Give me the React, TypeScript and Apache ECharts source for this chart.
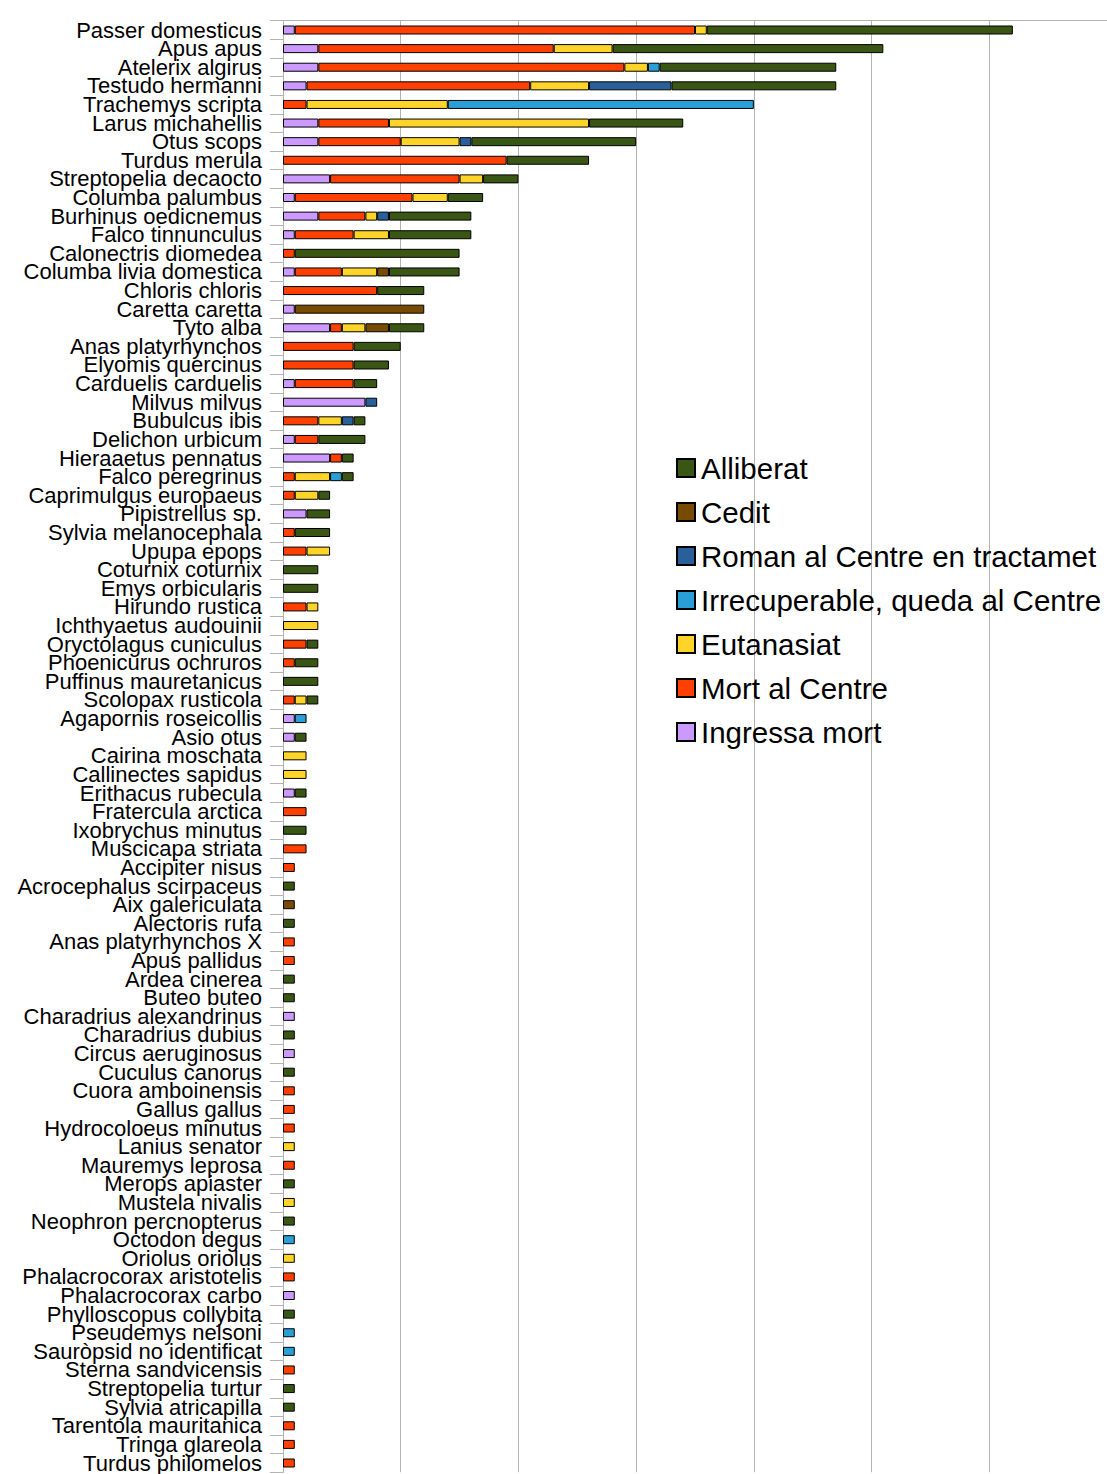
import React, { useEffect, useRef } from "react";
import * as echarts from "echarts";

const categories = [
  "Passer domesticus", "Apus apus", "Atelerix algirus", "Testudo hermanni", "Trachemys scripta",
  "Larus michahellis", "Otus scops", "Turdus merula", "Streptopelia decaocto", "Columba palumbus",
  "Burhinus oedicnemus", "Falco tinnunculus", "Calonectris diomedea", "Columba livia domestica", "Chloris chloris",
  "Caretta caretta", "Tyto alba", "Anas platyrhynchos", "Elyomis quercinus", "Carduelis carduelis",
  "Milvus milvus", "Bubulcus ibis", "Delichon urbicum", "Hieraaetus pennatus", "Falco peregrinus",
  "Caprimulgus europaeus", "Pipistrellus sp.", "Sylvia melanocephala", "Upupa epops", "Coturnix coturnix",
  "Emys orbicularis", "Hirundo rustica", "Ichthyaetus audouinii", "Oryctolagus cuniculus", "Phoenicurus ochruros",
  "Puffinus mauretanicus", "Scolopax rusticola", "Agapornis roseicollis", "Asio otus", "Cairina moschata",
  "Callinectes sapidus", "Erithacus rubecula", "Fratercula arctica", "Ixobrychus minutus", "Muscicapa striata",
  "Accipiter nisus", "Acrocephalus scirpaceus", "Aix galericulata", "Alectoris rufa", "Anas platyrhynchos X",
  "Apus pallidus", "Ardea cinerea", "Buteo buteo", "Charadrius alexandrinus", "Charadrius dubius",
  "Circus aeruginosus", "Cuculus canorus", "Cuora amboinensis", "Gallus gallus", "Hydrocoloeus minutus",
  "Lanius senator", "Mauremys leprosa", "Merops apiaster", "Mustela nivalis", "Neophron percnopterus",
  "Octodon degus", "Oriolus oriolus", "Phalacrocorax aristotelis", "Phalacrocorax carbo", "Phylloscopus collybita",
  "Pseudemys nelsoni", "Sauròpsid no identificat", "Sterna sandvicensis", "Streptopelia turtur", "Sylvia atricapilla",
  "Tarentola mauritanica", "Tringa glareola", "Turdus philomelos",
];

// Ingressa mort
const ingressaMort = [
  1, 3, 3, 2, 0, 3, 3, 0, 4, 1,
  3, 1, 0, 1, 0, 1, 4, 0, 0, 1,
  7, 0, 1, 4, 0, 0, 2, 0, 0, 0,
  0, 0, 0, 0, 0, 0, 0, 1, 1, 0,
  0, 1, 0, 0, 0, 0, 0, 0, 0, 0,
  0, 0, 0, 1, 0, 1, 0, 0, 0, 0,
  0, 0, 0, 0, 0, 0, 0, 0, 1, 0,
  0, 0, 0, 0, 0, 0, 0, 0,
];
// Mort al Centre
const mortAlCentre = [
  34, 20, 26, 19, 2, 6, 7, 19, 11, 10,
  4, 5, 1, 4, 8, 0, 1, 6, 6, 5,
  0, 3, 2, 1, 1, 1, 0, 1, 2, 0,
  0, 2, 0, 2, 1, 0, 1, 0, 0, 0,
  0, 0, 2, 0, 2, 1, 0, 0, 0, 1,
  1, 0, 0, 0, 0, 0, 0, 1, 1, 1,
  0, 1, 0, 0, 0, 0, 0, 1, 0, 0,
  0, 0, 1, 0, 0, 1, 1, 1,
];
// Eutanasiat
const eutanasiat = [
  1, 5, 2, 5, 12, 17, 5, 0, 2, 3,
  1, 3, 0, 3, 0, 0, 2, 0, 0, 0,
  0, 2, 0, 0, 3, 2, 0, 0, 2, 0,
  0, 1, 3, 0, 0, 0, 1, 0, 0, 2,
  2, 0, 0, 0, 0, 0, 0, 0, 0, 0,
  0, 0, 0, 0, 0, 0, 0, 0, 0, 0,
  1, 0, 0, 1, 0, 0, 1, 0, 0, 0,
  0, 0, 0, 0, 0, 0, 0, 0,
];
// Irrecuperable, queda al Centre
const irrecuperable = [
  0, 0, 1, 0, 26, 0, 0, 0, 0, 0,
  0, 0, 0, 0, 0, 0, 0, 0, 0, 0,
  0, 0, 0, 0, 1, 0, 0, 0, 0, 0,
  0, 0, 0, 0, 0, 0, 0, 1, 0, 0,
  0, 0, 0, 0, 0, 0, 0, 0, 0, 0,
  0, 0, 0, 0, 0, 0, 0, 0, 0, 0,
  0, 0, 0, 0, 0, 1, 0, 0, 0, 0,
  1, 1, 0, 0, 0, 0, 0, 0,
];
// Roman al Centre en tractamet
const romanAlCentre = [
  0, 0, 0, 7, 0, 0, 1, 0, 0, 0,
  1, 0, 0, 0, 0, 0, 0, 0, 0, 0,
  1, 1, 0, 0, 0, 0, 0, 0, 0, 0,
  0, 0, 0, 0, 0, 0, 0, 0, 0, 0,
  0, 0, 0, 0, 0, 0, 0, 0, 0, 0,
  0, 0, 0, 0, 0, 0, 0, 0, 0, 0,
  0, 0, 0, 0, 0, 0, 0, 0, 0, 0,
  0, 0, 0, 0, 0, 0, 0, 0,
];
// Cedit
const cedit = [
  0, 0, 0, 0, 0, 0, 0, 0, 0, 0,
  0, 0, 0, 1, 0, 11, 2, 0, 0, 0,
  0, 0, 0, 0, 0, 0, 0, 0, 0, 0,
  0, 0, 0, 0, 0, 0, 0, 0, 0, 0,
  0, 0, 0, 0, 0, 0, 0, 1, 0, 0,
  0, 0, 0, 0, 0, 0, 0, 0, 0, 0,
  0, 0, 0, 0, 0, 0, 0, 0, 0, 0,
  0, 0, 0, 0, 0, 0, 0, 0,
];
// Alliberat
const alliberat = [
  26, 23, 15, 14, 0, 8, 14, 7, 3, 3,
  7, 7, 14, 6, 4, 0, 3, 4, 3, 2,
  0, 1, 4, 1, 1, 1, 2, 3, 0, 3,
  3, 0, 0, 1, 2, 3, 1, 0, 1, 0,
  0, 1, 0, 2, 0, 0, 1, 0, 1, 0,
  0, 1, 1, 0, 1, 0, 1, 0, 0, 0,
  0, 0, 1, 0, 1, 0, 0, 0, 0, 1,
  0, 0, 0, 1, 1, 0, 0, 0,
];

const seriesNames = [
  "Ingressa mort",
  "Mort al Centre",
  "Eutanasiat",
  "Irrecuperable, queda al Centre",
  "Roman al Centre en tractamet",
  "Cedit",
  "Alliberat",
];
const seriesColors = ["#CC99FF", "#FF4000", "#FFD428", "#2A9FD6", "#2A6099", "#784B04", "#3A5614"];
const seriesValues = [ingressaMort, mortAlCentre, eutanasiat, irrecuperable, romanAlCentre, cedit, alliberat];

const FONT = "'Liberation Sans', Arial, sans-serif";

export default function App() {
  const ref = useRef<HTMLDivElement>(null);
  useEffect(() => {
    if (!ref.current) return;
    const chart = echarts.init(ref.current, null, { renderer: "svg" });
    chart.setOption({
      animation: false,
      backgroundColor: "#ffffff",
      legend: {
        orient: "vertical",
        left: 671,
        top: 448,
        itemWidth: 18,
        itemHeight: 18,
        itemGap: 14,
        icon: "rect",
        data: seriesNames.slice().reverse(),
        textStyle: {
          fontFamily: FONT,
          fontSize: 29.5,
          lineHeight: 30,
          color: "#000",
          padding: [0, 0, 0, 1],
        },
      },
      grid: {
        left: 283,
        top: 20.7,
        width: 826,
        height: 1453.6,
        containLabel: false,
      },
      xAxis: {
        type: "value",
        position: "top",
        min: 0,
        max: 70,
        interval: 10,
        axisLabel: { show: false },
        axisTick: { show: false },
        axisLine: { show: true, lineStyle: { color: "#b3b3b3", width: 1 } },
        splitLine: { show: true, lineStyle: { color: "#b3b3b3", width: 1 } },
      },
      yAxis: {
        type: "category",
        inverse: true,
        data: categories,
        axisLine: { show: true, lineStyle: { color: "#b3b3b3", width: 1 } },
        axisTick: { show: true, length: 13, lineStyle: { color: "#b3b3b3" } },
        axisLabel: {
          interval: 0,
          margin: 21,
          fontFamily: FONT,
          fontSize: 22,
          lineHeight: 18,
          color: "#000",
        },
      },
      series: seriesNames.map((name, i) => ({
        name,
        type: "bar",
        stack: "total",
        barWidth: 9,
        itemStyle: { color: seriesColors[i], borderColor: "#000", borderWidth: 1 },
        data: seriesValues[i].map((v) => (v === 0 ? null : v)),
      })),
    });
    return () => chart.dispose();
  }, []);
  return (
    <div
      ref={ref}
      style={{ position: "fixed", left: 0, top: 0, width: 1107, height: 1474 }}
    />
  );
}
